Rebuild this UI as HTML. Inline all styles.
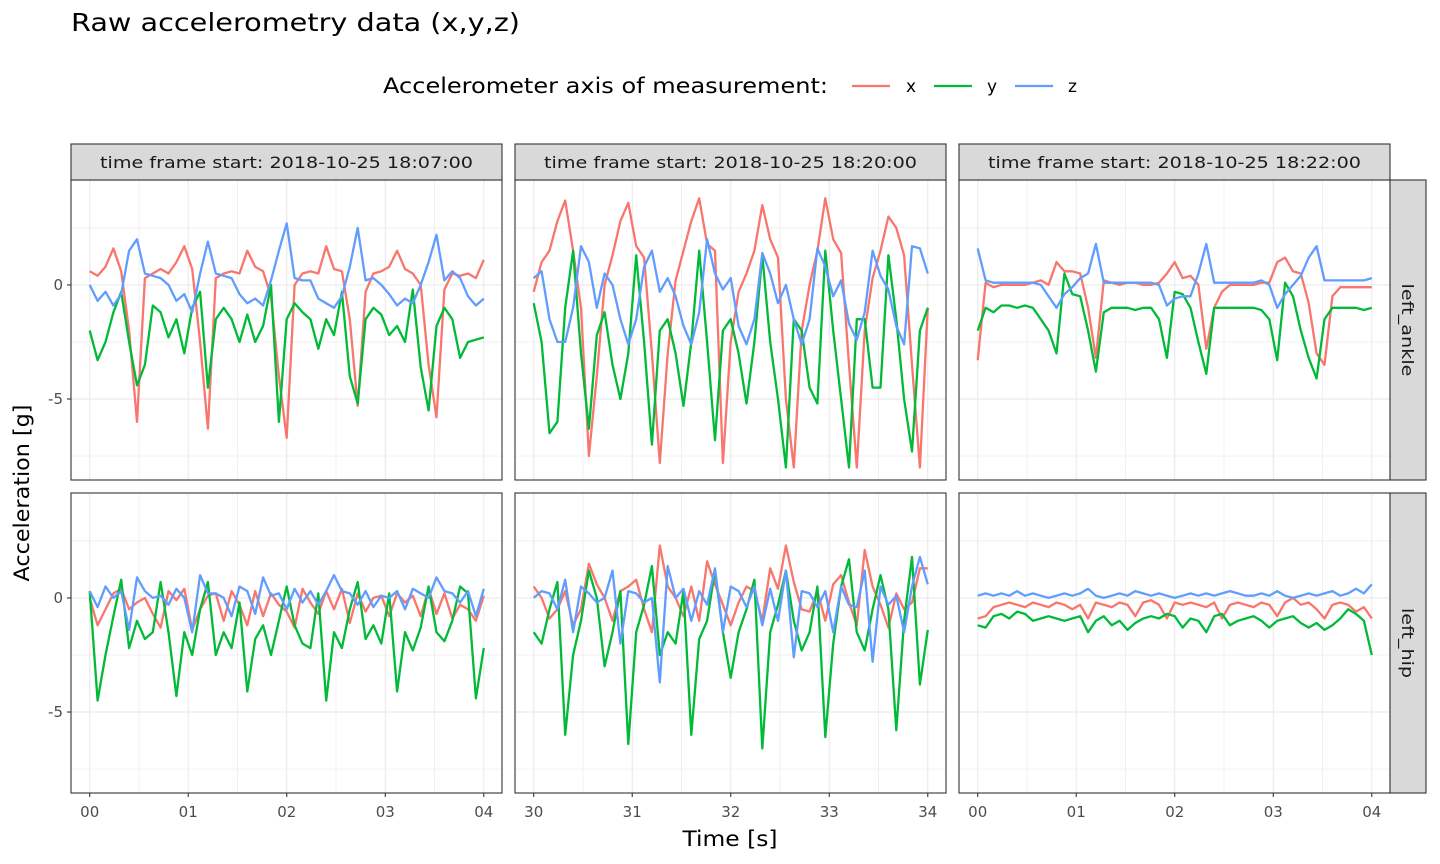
<!DOCTYPE html>
<html><head><meta charset="utf-8"><style>
body{margin:0;background:#fff;}
svg{display:block;font-family:"DejaVu Sans","Liberation Sans",sans-serif;}
</style></head><body>
<svg id="chart" width="1440" height="864" viewBox="0 0 1440 864">
<text x="71" y="31" font-size="25" textLength="449" lengthAdjust="spacingAndGlyphs" fill="#000">Raw accelerometry data (x,y,z)</text>
<g>
<text x="383" y="93" font-size="21" textLength="445" lengthAdjust="spacingAndGlyphs" fill="#000">Accelerometer axis of measurement:</text>
<line x1="852" y1="86" x2="890" y2="86" stroke="#F8766D" stroke-width="2.3"/>
<text x="906" y="92" font-size="17" fill="#000">x</text>
<line x1="934" y1="86" x2="972" y2="86" stroke="#00BA38" stroke-width="2.3"/>
<text x="987" y="92" font-size="17" fill="#000">y</text>
<line x1="1015" y1="86" x2="1053" y2="86" stroke="#619CFF" stroke-width="2.3"/>
<text x="1068" y="92" font-size="17" fill="#000">z</text>
</g>
<text x="730" y="846" font-size="21" textLength="95" lengthAdjust="spacingAndGlyphs" text-anchor="middle" fill="#000">Time [s]</text>
<text transform="translate(29,493) rotate(-90)" font-size="21" textLength="177" lengthAdjust="spacingAndGlyphs" text-anchor="middle" fill="#000">Acceleration [g]</text>
<g id="panels"></g>
</svg>
<script>
// ---- data (sampled every 0.08 s over a 4 s window) ----
const colTitles = ["time frame start: 2018-10-25 18:07:00","time frame start: 2018-10-25 18:20:00","time frame start: 2018-10-25 18:22:00"];
const rowTitles = ["left_ankle","left_hip"];
const colStarts = [0, 30, 0];
const xTickLabels = [["00","01","02","03","04"],["30","31","32","33","34"],["00","01","02","03","04"]];
const yTicks = [0, -5];
const yTickLabels = ["0","-5"];
const seriesNames = ["x","y","z"];

const ankle1_x = [0.6,0.4,0.8,1.6,0.6,-2,-6,0.3,0.5,0.7,0.5,1.0,1.7,0.7,-2.5,-6.3,0.3,0.5,0.6,0.5,1.5,0.8,0.6,-0.5,-4,-6.7,0.0,0.5,0.6,0.5,1.7,0.7,0.6,-1.5,-5.3,-0.3,0.5,0.6,0.8,1.5,0.7,0.5,0.0,-3.5,-5.8,-0.2,0.5,0.4,0.5,0.3,1.1];
const ankle1_y = [-2,-3.3,-2.5,-1.2,-0.3,-2.5,-4.4,-3.5,-0.9,-1.2,-2.3,-1.5,-3,-1,-0.3,-4.5,-1.5,-1,-1.5,-2.5,-1.3,-2.5,-1.8,0,-6,-1.5,-0.8,-1.2,-1.5,-2.8,-1.5,-2.2,-0.3,-4,-5.2,-1.5,-1,-1.3,-2.2,-1.8,-2.5,-0.2,-3.6,-5.5,-1.8,-1.0,-1.5,-3.2,-2.5,-2.4,-2.3];
const ankle1_z = [0,-0.7,-0.3,-0.9,-0.4,1.5,2.0,0.5,0.4,0.3,0.0,-0.7,-0.4,-1.2,0.5,1.9,0.5,0.4,0.3,-0.4,-0.8,-0.6,-0.9,0.2,1.5,2.7,0.3,0.2,0.2,-0.6,-0.8,-1.0,-0.5,0.8,2.5,0.2,0.3,0.0,-0.4,-0.9,-0.6,-0.8,0.0,1.0,2.2,0.2,0.6,0.3,-0.5,-0.9,-0.6];
const ankle2_x = [-0.3,1.0,1.5,2.8,3.7,1.5,-1,-7.5,-4,0.0,1.3,2.8,3.6,1.7,1.2,-3,-7.8,-3,0.2,1.5,2.8,3.8,1.8,1.5,-7.8,-2.5,-0.3,0.5,1.5,3.5,2.0,1.2,-5,-8,-2,0.0,1.5,3.8,2.0,1.4,-3.5,-8,-2,0.3,1.5,3.0,2.5,1.3,-3.5,-8,-1];
const ankle2_y = [-0.8,-2.5,-6.5,-6.0,-1,1.5,-3,-6.3,-2.2,-1.2,-3.5,-5,-3,1.3,-2.5,-7,-2,-1.5,-3,-5.3,-2.5,1.5,-2.5,-6.8,-2,-1.5,-3,-5.2,-2.5,1.3,-2.5,-5,-8,-1.5,-2,-4.5,-5.2,1.5,-2,-5,-8,-1.5,-1.5,-4.5,-4.5,1.3,-1.5,-5,-7.3,-2,-1];
const ankle2_z = [0.3,0.6,-1.5,-2.5,-2.5,-1,1.7,1.0,-1.0,0.5,0.0,-1.5,-2.6,-1.5,0.8,1.5,-0.3,0.3,-0.5,-1.8,-2.6,-1.2,2.0,0.5,-0.2,0.3,-1.8,-2.6,-1.5,1.4,0.5,-0.8,0.0,-1.5,-2.6,-1.5,1.6,0.8,-0.5,0.2,-1.7,-2.4,-1.2,1.5,0.4,-0.2,-1.8,-2.6,1.7,1.6,0.5];
const ankle3_x = [-3.3,0.1,-0.1,0,0,0,0,0.1,0.2,0.0,1.0,0.6,0.6,0.5,-1.0,-3.2,0.2,0.1,0.0,0.1,0.1,0.0,0.0,0.1,0.5,1.0,0.3,0.4,0.0,-2.8,-1.0,-0.3,0.0,0.0,0.0,0.0,0.1,0.1,1.0,1.2,0.6,0.5,-0.8,-3.0,-3.5,-0.5,-0.1,-0.1,-0.1,-0.1,-0.1];
const ankle3_y = [-2.0,-1.0,-1.2,-0.9,-0.9,-1.0,-0.9,-1.0,-1.5,-2.0,-3.0,0.5,-0.4,-0.5,-2.0,-3.8,-1.2,-1.0,-1.0,-1.0,-1.1,-1.0,-1.0,-1.5,-3.2,-0.3,-0.4,-1.0,-2.5,-3.9,-1.0,-1.0,-1.0,-1.0,-1.0,-1.0,-1.1,-1.5,-3.3,0.1,-0.5,-2.0,-3.2,-4.1,-1.5,-1.0,-1.0,-1.0,-1.0,-1.1,-1.0];
const ankle3_z = [1.6,0.2,0.1,0.1,0.1,0.1,0.1,0.1,0.0,-0.5,-1.0,-0.4,-0.1,0.3,0.5,1.8,0.1,0.1,0.1,0.1,0.1,0.1,0.1,0.0,-0.9,-0.6,-0.5,-0.5,0.5,1.8,0.1,0.1,0.1,0.1,0.1,0.1,0.2,0.0,-1.0,-0.4,0.0,0.4,1.2,1.7,0.2,0.2,0.2,0.2,0.2,0.2,0.3];
const hip1_x = [0,-1.2,-0.5,0.2,0.4,-0.5,-0.2,0.0,-0.7,-1.3,0.3,-0.1,0.4,-1.4,-0.5,0.1,0.2,-1.0,0.3,-0.3,-1.2,0.3,-0.8,0.2,-0.3,-0.6,-1.3,0.4,-0.2,-0.7,0.3,-0.5,0.4,-1.1,0.2,-0.6,0.0,0.1,-0.8,0.2,-0.2,0.1,-0.8,0.4,-0.7,0.2,-0.9,-0.3,-0.5,-1.0,0.1];
const hip1_y = [0.3,-4.5,-2.5,-0.8,0.8,-2.2,-1.0,-1.8,-1.5,0.7,-1.5,-4.3,-1.5,-2.5,-0.5,0.7,-2.5,-1.5,-2.2,-0.2,-4.1,-1.8,-1.2,-2.5,-1.0,0.5,-1.2,-2.0,-2.2,0.2,-4.5,-1.5,-2.2,-0.5,0.7,-1.8,-1.2,-2.0,0.2,-4.1,-1.5,-2.3,-1.3,0.5,-1.5,-1.9,-1.0,0.5,0.2,-4.4,-2.2];
const hip1_z = [0.3,-0.4,0.5,0.0,0.3,-1.4,0.9,0.3,0.0,0.1,-0.3,0.4,0.0,-1.5,1.0,0.2,0.2,0.0,-0.8,0.5,0.3,-0.7,0.9,0.1,0.2,-0.5,0.4,-0.2,0.3,-0.3,0.3,1.0,0.3,0.2,-0.3,0.3,-0.4,0.1,0.0,0.3,-0.5,0.4,0.2,0.0,0.9,0.3,0.2,-0.2,0.3,-0.8,0.4];
const hip2_x = [0.5,0.0,-0.9,-0.5,0.3,-1.2,-0.5,1.5,0.6,0.0,-1.0,0.3,0.5,0.8,-0.5,-1.5,2.3,0.5,0.0,-0.8,0.5,-1.0,1.6,0.6,-0.3,-1.2,-0.2,0.5,0.3,-1.0,1.3,0.4,2.3,0.7,-0.5,-0.6,0.3,-1.0,0.6,1.0,-0.2,-1.2,2.1,0.5,-0.3,-1.3,0.2,-0.5,-0.2,1.3,1.3];
const hip2_y = [-1.5,-2.0,-0.5,0.7,-6.0,-2.5,-1.0,1.2,0.0,-3.0,-1.5,0.3,-6.4,-1.5,-0.3,1.4,-2.5,-1.5,-2.0,0.3,-6.0,-1.8,-1.0,1.2,-1.5,-3.5,-1.5,-0.5,0.8,-6.6,-1.5,-0.3,1.2,-1.0,-2.3,-1.5,0.5,-6.1,-2.0,0.5,1.7,-1.5,-2.3,-0.5,1.0,-0.5,-5.8,-1.0,1.8,-3.8,-1.4];
const hip2_z = [0.0,0.3,0.2,-0.5,0.8,-1.5,0.5,0.2,-0.2,0.0,1.2,-2.0,0.3,0.2,-0.2,0.0,-3.7,1.4,0.0,0.4,-1.0,0.3,-0.3,1.3,-1.5,0.5,0.3,-0.4,0.5,-1.2,0.4,-1.0,1.2,-2.6,0.3,0.2,-0.4,0.3,-1.5,0.5,-0.3,-0.4,1.2,-2.8,0.5,-0.3,0.1,-1.5,0.5,1.8,0.6];
const hip3_x = [-0.9,-0.8,-0.4,-0.3,-0.2,-0.3,-0.4,-0.2,-0.3,-0.4,-0.2,-0.3,-0.5,-0.3,-0.9,-0.2,-0.3,-0.4,-0.2,-0.3,-0.8,-0.2,-0.1,-0.3,-0.9,-0.2,-0.3,-0.2,-0.3,-0.4,-0.2,-0.9,-0.3,-0.2,-0.3,-0.4,-0.2,-0.3,-0.8,-0.2,0.0,-0.3,-0.2,-0.5,-0.9,-0.3,-0.2,-0.3,-0.6,-0.4,-0.9];
const hip3_y = [-1.2,-1.3,-0.8,-0.7,-0.9,-0.6,-0.7,-1.0,-0.9,-0.8,-0.9,-1.0,-0.9,-0.8,-1.5,-1.0,-0.8,-1.2,-1.0,-1.4,-1.1,-0.9,-0.8,-0.9,-0.7,-0.8,-1.3,-0.9,-1.0,-1.5,-0.8,-0.7,-1.2,-1.0,-0.9,-0.8,-1.0,-1.3,-1.0,-0.9,-0.8,-1.1,-1.3,-1.1,-1.4,-1.2,-0.9,-0.5,-0.7,-1.0,-2.5];
const hip3_z = [0.1,0.2,0.1,0.2,0.1,0.3,0.1,0.2,0.1,0.0,0.1,0.2,0.1,0.2,0.4,0.1,0.0,0.1,0.2,0.1,0.3,0.2,0.1,0.2,0.1,0.0,0.1,0.2,0.1,0.2,0.1,0.2,0.3,0.2,0.1,0.1,0.2,0.1,0.3,0.1,0.0,0.1,0.2,0.1,0.2,0.3,0.1,0.2,0.4,0.2,0.6];

const panelData = [
  [[ankle1_x,ankle1_y,ankle1_z],[ankle2_x,ankle2_y,ankle2_z],[ankle3_x,ankle3_y,ankle3_z]],
  [[hip1_x,hip1_y,hip1_z],[hip2_x,hip2_y,hip2_z],[hip3_x,hip3_y,hip3_z]]
];
const colors = ["#F8766D","#00BA38","#619CFF"];

// ---- layout ----
const NS = "http://www.w3.org/2000/svg";
const g = document.getElementById("panels");
const colX = [71,515,959], panelW = 431;
const rowY = [180,493], panelH = 300;
const yMin = -8.55, yMax = 4.6;
const tMin = -0.19, tMax = 4.185;
function mk(tag, attrs, parent){const e=document.createElementNS(NS,tag);for(const k in attrs)e.setAttribute(k,attrs[k]);(parent||g).appendChild(e);return e;}

for(let r=0;r<2;r++){
  for(let c=0;c<3;c++){
    const x0=colX[c], y0=rowY[r];
    const sx = t => x0 + (t - tMin)/(tMax - tMin)*panelW;
    const sy = v => y0 + (yMax - v)/(yMax - yMin)*panelH;
    const pg = mk("g",{});
    
    
    mk("rect",{x:x0,y:y0,width:panelW,height:panelH,fill:"#fff"},pg);
    for(let v=-7.5; v<=2.5; v+=2.5){
      const l=mk("line",{x1:x0,x2:x0+panelW,y1:sy(v),y2:sy(v),stroke:"#EBEBEB","stroke-width":(v%5===0)?1.2:0.7},pg);
      
      
    }
    for(let t=0; t<=4; t+=0.5){
      const l=mk("line",{y1:y0,y2:y0+panelH,x1:sx(t),x2:sx(t),stroke:"#EBEBEB","stroke-width":(t%1===0)?1.2:0.7},pg);
      
      
    }
    for(let s=0;s<3;s++){
      const vals = panelData[r][c][s];
      const dt = 4/(vals.length-1);
      const d = vals.map((v,i)=>(i?"L":"M")+sx(i*dt).toFixed(1)+","+sy(v).toFixed(1)).join("");
      const p = mk("path",{d:d,fill:"none",stroke:colors[s],"stroke-width":2.3,"stroke-linejoin":"round"},pg);
      
      
    }
    const border = mk("rect",{x:x0,y:y0,width:panelW,height:panelH,fill:"none",stroke:"#333","stroke-width":1.1},pg);
    
    
    if(c===0){
      yTicks.forEach((v,i)=>{
        const tk=mk("line",{x1:x0-4,x2:x0,y1:sy(v),y2:sy(v),stroke:"#333","stroke-width":1.1});
        
        
        const tl=mk("text",{x:x0-8,y:sy(v)+5,"font-size":15,"text-anchor":"end",fill:"#4D4D4D"});
        tl.textContent=yTickLabels[i];
        
        
      });
    }
    if(r===1){
      xTickLabels[c].forEach((lab,i)=>{
        const tk=mk("line",{x1:sx(i),x2:sx(i),y1:y0+panelH,y2:y0+panelH+4,stroke:"#333","stroke-width":1.1});
        
        
        const tl=mk("text",{x:sx(i),y:y0+panelH+24,"font-size":15,"text-anchor":"middle",fill:"#4D4D4D"});
        tl.textContent=lab;
        
        
      });
    }
  }
}
colTitles.forEach((t,c)=>{
  const sg=mk("g",{});
  
  
  mk("rect",{x:colX[c],y:144,width:panelW,height:36,fill:"#D9D9D9",stroke:"#333","stroke-width":1.1},sg);
  const tx=mk("text",{x:colX[c]+panelW/2,y:168,"font-size":16,textLength:373,lengthAdjust:"spacingAndGlyphs","text-anchor":"middle",fill:"#1A1A1A"},sg);
  tx.textContent=t;
  
  
});
rowTitles.forEach((t,r)=>{
  const sg=mk("g",{});
  
  
  mk("rect",{x:1390,y:rowY[r],width:36,height:panelH,fill:"#D9D9D9",stroke:"#333","stroke-width":1.1},sg);
  const cy=rowY[r]+panelH/2;
  const tx=mk("text",{x:0,y:0,transform:"translate(1402,"+cy+") rotate(90)","font-size":16,textLength:(r===0?93:70),lengthAdjust:"spacingAndGlyphs","text-anchor":"middle",fill:"#1A1A1A"},sg);
  tx.textContent=t;
  
  
});
</script>
</body></html>
